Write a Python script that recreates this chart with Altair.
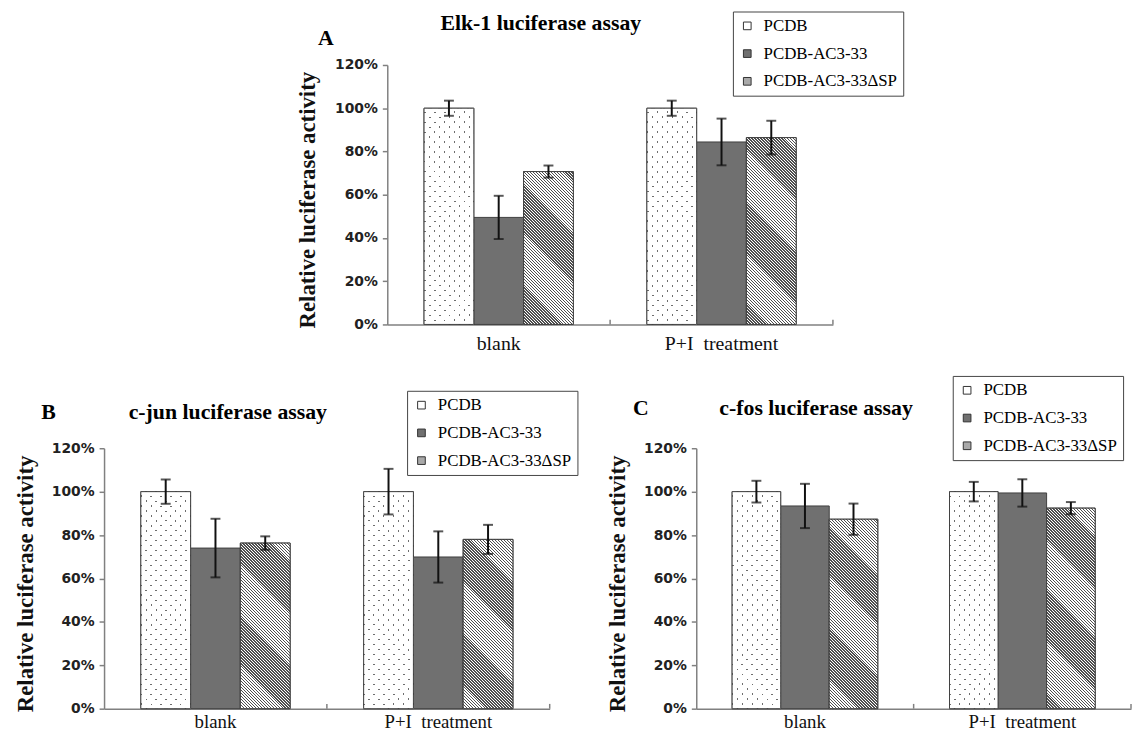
import altair as alt
import pandas as pd

# ---------------- data ----------------
CATEGORIES = ["blank", "P+I\u00a0 treatment"]
SERIES = ["PCDB", "PCDB-AC3-33", "PCDB-AC3-33\u0394SP"]

# Panel A: Elk-1
A_BLANK = [1.00, 0.495, 0.707]
A_PI = [1.00, 0.844, 0.864]
A_BLANK_ERR = [0.035, 0.100, 0.028]
A_PI_ERR = [0.035, 0.108, 0.078]

# Panel B: c-jun
B_BLANK = [1.00, 0.740, 0.763]
B_PI = [1.00, 0.699, 0.780]
B_BLANK_ERR = [0.056, 0.135, 0.031]
B_PI_ERR = [0.105, 0.118, 0.067]

# Panel C: c-fos
C_BLANK = [1.00, 0.934, 0.873]
C_PI = [1.00, 0.994, 0.924]
C_BLANK_ERR = [0.050, 0.102, 0.072]
C_PI_ERR = [0.045, 0.063, 0.028]

Y_TICKS = [0, 0.2, 0.4, 0.6, 0.8, 1.0, 1.2]
TITLES = ["Elk-1 luciferase assay", "c-jun luciferase assay", "c-fos luciferase assay"]
LETTERS = ["A", "B", "C"]
Y_TITLE = "Relative luciferase activity"

# ---------------- styles ----------------
FILLS = ["#ffffff", "#707070", "#a9a9a9"]
SERIF = "Liberation Serif"
EDGE = "#404040"
AXIS_COL = "#808080"
P_IN = 0.33
P_OUT = 0.165
Y_MAX = 1.2


def diag_gradient(w, h, period, line_w, line, base, direction):
    """Repeating diagonal stripes at 45 degrees on a w x h box (pattern styling)."""
    r = h / w
    k = (1 + r) / (1 + r * r)
    if direction == "\\":
        x1, y1, x2, y2 = 0, 1, k, 1 - k * r
    else:
        x1, y1, x2, y2 = 0, 0, k, k * r
    total = w + h
    dt = period / total
    lw = line_w / total
    stops = [{"offset": 0, "color": base}]
    c = dt / 2
    while c - lw / 2 < 1:
        a = round(max(0.0, c - lw / 2), 5)
        b = round(min(1.0, c + lw / 2), 5)
        stops += [{"offset": a, "color": base}, {"offset": a, "color": line},
                  {"offset": b, "color": line}, {"offset": b, "color": base}]
        c += dt
    stops.append({"offset": 1, "color": base})
    return {"gradient": "linear", "x1": x1, "y1": y1, "x2": round(x2, 5),
            "y2": round(y2, 5), "stops": stops}


def make_df(blank, pi, blank_err, pi_err):
    rows = []
    for cat, means, errs in [(CATEGORIES[0], blank, blank_err), (CATEGORIES[1], pi, pi_err)]:
        for s, m, e in zip(SERIES, means, errs):
            rows.append({"cat": cat, "series": s, "mean": m, "lo": m - e, "hi": m + e})
    return pd.DataFrame(rows)


def panel(df, title, letter, width, height, title_pos, letter_pos, legend_pos,
          ytitle_x, markers, xlab_size=20, xlab_pad=9):
    xscale = alt.Scale(domain=CATEGORIES, paddingInner=P_IN, paddingOuter=P_OUT)
    yscale = alt.Scale(domain=[0, Y_MAX], nice=False)
    xo = alt.XOffset("series:N", sort=SERIES,
                     scale=alt.Scale(domain=SERIES, paddingInner=0, paddingOuter=0))
    x_axis = alt.Axis(title=None, labelAngle=0, ticks=False, tickSize=0,
                      labelPadding=xlab_pad, labelFont=SERIF, labelFontSize=xlab_size,
                      labelColor="#111", domainColor=AXIS_COL, domainWidth=1.5)
    y_axis = alt.Axis(values=Y_TICKS, format=".0%", grid=False, title=Y_TITLE,
                      titleFont=SERIF, titleFontSize=23, titleFontWeight="bold",
                      titleColor="#111", titleAngle=270, titleAlign="center",
                      titleBaseline="middle", titleX=ytitle_x, titleY=height / 2 + 5,
                      labelFont="DejaVu Sans", labelFontWeight="bold", labelFontSize=14,
                      labelColor="#222", labelPadding=5, tickSize=5, tickWidth=1.5,
                      tickColor=AXIS_COL, domainColor=AXIS_COL, domainWidth=1.5)
    xe = alt.X("cat:N", sort=CATEGORIES, scale=xscale, axis=x_axis)

    base = alt.Chart(df).mark_bar(stroke=EDGE, strokeWidth=1).encode(
        x=xe, xOffset=xo,
        y=alt.Y("mean:Q", scale=yscale, axis=y_axis),
        fill=alt.Fill("series:N", sort=SERIES,
                      scale=alt.Scale(domain=SERIES, range=FILLS),
                      legend=alt.Legend(orient="none", legendX=legend_pos[0],
                                        legendY=legend_pos[1], title=None,
                                        direction="vertical", symbolType="square",
                                        symbolSize=60, symbolStrokeColor="#333",
                                        symbolStrokeWidth=1, labelFont=SERIF,
                                        labelFontSize=17, labelColor="#000",
                                        labelOffset=8, labelLimit=300, rowPadding=10,
                                        padding=6, strokeColor="#444",
                                        fillColor="#ffffff")),
    )
    layers = [base]

    # texture overlays (dots for PCDB, hatch for the delta-SP construct)
    bar_w = (width / 2) * (1 - P_IN) / 3
    for _, row in df.iterrows():
        if row["series"] == SERIES[1]:
            continue
        h = row["mean"] / Y_MAX * height
        sel = (alt.datum.cat == row["cat"]) & (alt.datum.series == row["series"])
        enc = dict(x=xe, xOffset=xo, y=alt.Y("mean:Q", scale=yscale, axis=y_axis))
        if row["series"] == SERIES[0]:
            g_lines = diag_gradient(bar_w, h, 10, 2.0, "#6e6e6e", "#ffffff", "/")
            g_mask = diag_gradient(bar_w, h, 10, 2.0, "rgba(255,255,255,0)", "#ffffff", "\\")
            layers.append(alt.Chart(df).transform_filter(sel).mark_bar(
                fill=g_lines, strokeWidth=0).encode(**enc))
            layers.append(alt.Chart(df).transform_filter(sel).mark_bar(
                fill=g_mask, stroke=EDGE, strokeWidth=1).encode(**enc))
        else:
            g_hatch = diag_gradient(bar_w, h, 3, 1.5, "#4f4f4f", "#ffffff", "\\")
            layers.append(alt.Chart(df).transform_filter(sel).mark_bar(
                fill=g_hatch, stroke=EDGE, strokeWidth=1).encode(**enc))

    err = alt.Chart(df).mark_rule(color="#111", strokeWidth=2).encode(
        x=xe, xOffset=xo, y=alt.Y("lo:Q", scale=yscale, axis=y_axis), y2="hi:Q")
    cap_hi = alt.Chart(df).mark_tick(color="#111", thickness=2, size=10,
                                     orient="horizontal").encode(
        x=xe, xOffset=xo, y=alt.Y("hi:Q", scale=yscale, axis=y_axis))
    cap_lo = alt.Chart(df).mark_tick(color="#111", thickness=2, size=10,
                                     orient="horizontal").encode(
        x=xe, xOffset=xo, y=alt.Y("lo:Q", scale=yscale, axis=y_axis))

    # inside ticks at category boundaries (Excel style)
    boundary_shift = (P_IN / 2) * width / 2
    ticks = alt.Chart(pd.DataFrame({"cat": CATEGORIES})).mark_rule(
        color=AXIS_COL, strokeWidth=1.5, xOffset=boundary_shift).encode(
        x=alt.X("cat:N", sort=CATEGORIES, scale=xscale, axis=x_axis, bandPosition=1),
        y=alt.YDatum(0, type="quantitative", scale=yscale, axis=y_axis),
        y2=alt.Y2Datum(0.022))

    ttl = alt.Chart(pd.DataFrame({"t": [title]})).mark_text(
        font=SERIF, fontSize=22, fontWeight="bold", align="center", baseline="middle",
        color="#000").encode(text="t:N", x=alt.value(title_pos[0]), y=alt.value(title_pos[1]))
    let = alt.Chart(pd.DataFrame({"t": [letter]})).mark_text(
        font=SERIF, fontSize=22, fontWeight="bold", align="center", baseline="middle",
        color="#000").encode(text="t:N", x=alt.value(letter_pos[0]), y=alt.value(letter_pos[1]))

    layers += [err, cap_hi, cap_lo, ticks, ttl, let]
    for mx, my, bl in markers:
        layers.append(alt.Chart(pd.DataFrame({"t": ["."]})).mark_text(
            opacity=0, fontSize=2, align="left", baseline=bl).encode(
            text="t:N", x=alt.value(mx), y=alt.value(my)))
    return alt.layer(*layers).properties(width=width, height=height)


dfA = make_df(A_BLANK, A_PI, A_BLANK_ERR, A_PI_ERR)
dfB = make_df(B_BLANK, B_PI, B_BLANK_ERR, B_PI_ERR)
dfC = make_df(C_BLANK, C_PI, C_BLANK_ERR, C_PI_ERR)

panelA = panel(dfA, TITLES[0], LETTERS[0], 450, 262, (155, -42), (-62, -27), (349, -54),
               -80, [(-94, -60, "top"), (0, 300, "bottom")], xlab_pad=9)
panelB = panel(dfB, TITLES[1], LETTERS[1], 450, 263, (125, -37), (-56, -37), (306, -58),
               -79, [(-94, -80, "top"), (480, 0, "top")], xlab_size=19, xlab_pad=4)
panelC = panel(dfC, TITLES[2], LETTERS[2], 439, 263, (121, -41), (-56, -41), (259, -73),
               -79, [(-94, -80, "top")], xlab_size=19, xlab_pad=4)

SPACER_W = 192
spacer = alt.Chart(pd.DataFrame({"v": [0]})).mark_rule(opacity=0).encode(
    x=alt.value(0), x2=alt.value(SPACER_W), y=alt.value(0)
).properties(width=SPACER_W, height=10)

top = alt.hconcat(spacer, panelA, spacing=0).resolve_scale(fill="independent",
                                                           xOffset="independent")
bottom = alt.hconcat(panelB, panelC, spacing=23).resolve_scale(fill="independent",
                                                               xOffset="independent")

chart = alt.vconcat(top, bottom, spacing=7).resolve_scale(
    fill="independent", xOffset="independent"
).properties(
    padding={"left": 3, "top": -6, "right": 0, "bottom": -3}
).configure_view(stroke=None)

chart.save("out.html", embed_options={"renderer": "svg", "actions": False})
